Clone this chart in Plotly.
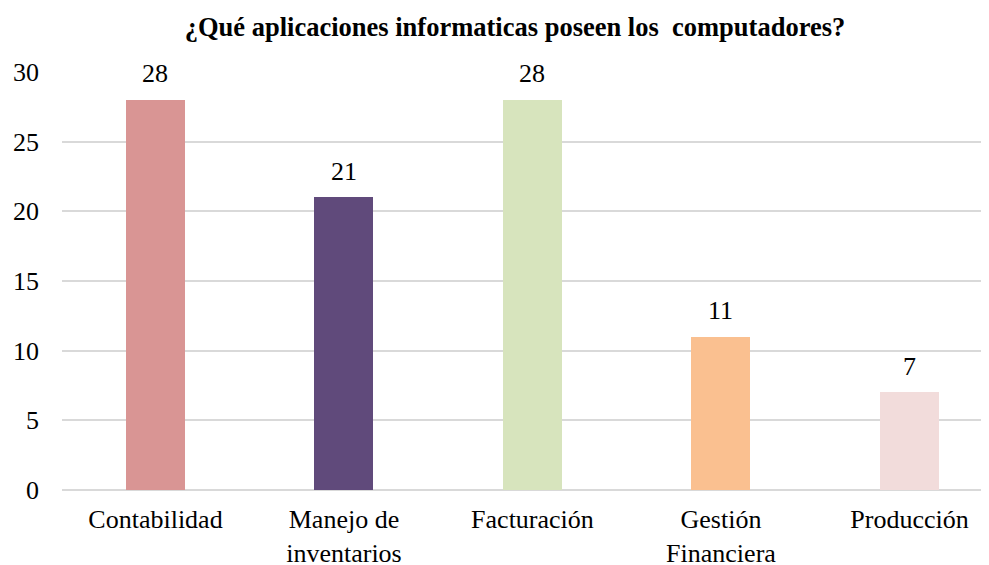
import plotly.graph_objects as go

categorias = ["Contabilidad", "Manejo de<br>inventarios", "Facturación", "Gestión<br>Financiera", "Producción"]
valores = [28, 21, 28, 11, 7]
colores = ["#D99594", "#604A7B", "#D7E4BD", "#FAC090", "#F2DCDB"]

serif = "Liberation Serif"

fig = go.Figure()

fig.add_trace(go.Bar(
    x=list(range(len(categorias))),
    y=valores,
    marker=dict(color=colores, line=dict(width=0)),
    width=0.313,
    hoverinfo="skip",
))

# value labels above each bar
for i, v in enumerate(valores):
    fig.add_annotation(
        x=i, y=v, text=str(v), showarrow=False,
        yanchor="middle", yshift=26,
        font=dict(family=serif, size=26, color="#000000"),
    )

# page has an 8px body margin, so the figure is offset by (8, 8)
fig.update_layout(
    width=981, height=557,
    margin=dict(l=54, r=0, t=64, b=75),
    title=dict(
        text="<b>¿Qué aplicaciones informaticas poseen los  computadores?</b>",
        x=(515 - 8) / 981, xanchor="center", y=1 - (27 - 8) / 557, yanchor="middle", yref="container",
        font=dict(family=serif, size=26.5, color="#000000"),
    ),
    font=dict(family=serif, size=26, color="#000000"),
    plot_bgcolor="white", paper_bgcolor="white",
    showlegend=False,
    bargap=0,
)

fig.update_xaxes(
    range=[-0.496, 4.422],
    tickmode="array",
    tickvals=list(range(len(categorias))),
    ticktext=categorias,
    showgrid=False, zeroline=False, showline=False,
    ticks="", ticklabelstandoff=11, automargin=False,
    tickfont=dict(family=serif, size=26, color="#000000"),
)

fig.update_yaxes(
    range=[0, 30],
    dtick=5,
    showgrid=True, gridcolor="#D9D9D9", gridwidth=1.5,
    zeroline=True, zerolinecolor="#D9D9D9", zerolinewidth=1.5,
    showline=False, ticks="", ticklabelstandoff=22, automargin=False,
    tickfont=dict(family=serif, size=26, color="#000000"),
)

fig.write_html("out.html")
